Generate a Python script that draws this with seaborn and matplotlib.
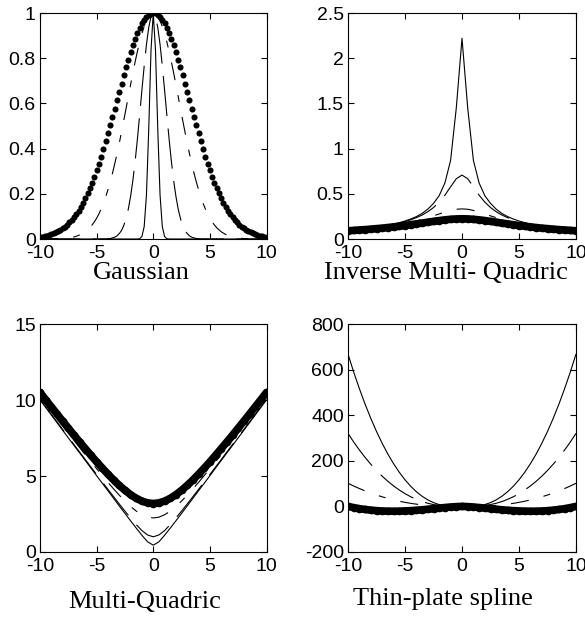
import numpy as np
import matplotlib
matplotlib.use("Agg")
import matplotlib.pyplot as plt
import seaborn as sns

# ---------------- data ----------------
x_fine = np.linspace(-10, 10, 101)     # sampling grid of the Gaussian panel
x_coarse = np.linspace(-10, 10, 41)    # sampling grid of the other panels

gauss_c1 = [0.0] * 44 + [0.001, 0.011, 0.055, 0.195, 0.483, 0.834, 1.000,
                         0.834, 0.483, 0.195, 0.055, 0.011, 0.001] + [0.0] * 44
gauss_c2 = [0.0] * 30 + [0.001, 0.002, 0.005, 0.008, 0.014, 0.024, 0.038, 0.060, 0.091, 0.133,
                         0.189, 0.259, 0.344, 0.442, 0.549, 0.659, 0.766, 0.861, 0.936, 0.983,
                         1.000,
                         0.983, 0.936, 0.861, 0.766, 0.659, 0.549, 0.442, 0.344, 0.259, 0.189,
                         0.133, 0.091, 0.060, 0.038, 0.024, 0.014, 0.008, 0.005, 0.002, 0.001] + [0.0] * 30
gauss_c3 = [0.0] * 6 + [0.001, 0.001, 0.001, 0.002, 0.002, 0.003, 0.004, 0.005, 0.007, 0.009,
                        0.012, 0.016, 0.020, 0.026, 0.032, 0.041, 0.050, 0.062, 0.076, 0.092,
                        0.111, 0.133, 0.158, 0.186, 0.218, 0.253, 0.291, 0.333, 0.377, 0.424,
                        0.474, 0.525, 0.578, 0.631, 0.683, 0.735, 0.784, 0.830, 0.872, 0.909,
                        0.941, 0.966, 0.985, 0.996,
                        1.000,
                        0.996, 0.985, 0.966, 0.941, 0.909, 0.872, 0.830, 0.784, 0.735, 0.683,
                        0.631, 0.578, 0.525, 0.474, 0.424, 0.377, 0.333, 0.291, 0.253, 0.218,
                        0.186, 0.158, 0.133, 0.111, 0.092, 0.076, 0.062, 0.050, 0.041, 0.032,
                        0.026, 0.020, 0.016, 0.012, 0.009, 0.007, 0.005, 0.004, 0.003, 0.002,
                        0.002, 0.001, 0.001, 0.001] + [0.0] * 6
gauss_c4 = [0.009, 0.010, 0.012, 0.015, 0.018, 0.021, 0.025, 0.030, 0.035, 0.041,
            0.047, 0.055, 0.064, 0.074, 0.085, 0.097, 0.111, 0.126, 0.142, 0.160,
            0.180, 0.202, 0.225, 0.249, 0.276, 0.304, 0.334, 0.365, 0.398, 0.432,
            0.467, 0.503, 0.539, 0.577, 0.614, 0.651, 0.688, 0.725, 0.760, 0.794,
            0.827, 0.857, 0.885, 0.911, 0.934, 0.954, 0.970, 0.983, 0.992, 0.998,
            1.000,
            0.998, 0.992, 0.983, 0.970, 0.954, 0.934, 0.911, 0.885, 0.857, 0.827,
            0.794, 0.760, 0.725, 0.688, 0.651, 0.614, 0.577, 0.539, 0.503, 0.467,
            0.432, 0.398, 0.365, 0.334, 0.304, 0.276, 0.249, 0.225, 0.202, 0.180,
            0.160, 0.142, 0.126, 0.111, 0.097, 0.085, 0.074, 0.064, 0.055, 0.047,
            0.041, 0.035, 0.030, 0.025, 0.021, 0.018, 0.015, 0.012, 0.010, 0.009]

imq_c1 = [0.100, 0.105, 0.111, 0.117, 0.125, 0.133, 0.143, 0.153, 0.166, 0.181,
          0.199, 0.221, 0.248, 0.283, 0.330, 0.394, 0.480, 0.620, 0.870, 1.450,
          2.220,
          1.450, 0.870, 0.620, 0.480, 0.394, 0.330, 0.283, 0.248, 0.221, 0.199,
          0.181, 0.166, 0.153, 0.143, 0.133, 0.125, 0.117, 0.111, 0.105, 0.100]
imq_c2 = [0.099, 0.104, 0.110, 0.116, 0.123, 0.131, 0.140, 0.150, 0.162, 0.176,
          0.192, 0.212, 0.236, 0.265, 0.302, 0.348, 0.408, 0.485, 0.577, 0.667,
          0.707,
          0.667, 0.577, 0.485, 0.408, 0.348, 0.302, 0.265, 0.236, 0.212, 0.192,
          0.176, 0.162, 0.150, 0.140, 0.131, 0.123, 0.116, 0.110, 0.104, 0.099]
imq_c3 = [0.096, 0.100, 0.105, 0.111, 0.117, 0.124, 0.131, 0.140, 0.149, 0.160,
          0.171, 0.185, 0.200, 0.217, 0.236, 0.256, 0.277, 0.298, 0.316, 0.329,
          0.333,
          0.329, 0.316, 0.298, 0.277, 0.256, 0.236, 0.217, 0.200, 0.185, 0.171,
          0.160, 0.149, 0.140, 0.131, 0.124, 0.117, 0.111, 0.105, 0.100, 0.096]
imq_c4 = [0.091, 0.095, 0.100, 0.104, 0.109, 0.115, 0.120, 0.127, 0.134, 0.141,
          0.149, 0.158, 0.167, 0.176, 0.186, 0.195, 0.204, 0.212, 0.218, 0.222,
          0.224,
          0.222, 0.218, 0.212, 0.204, 0.195, 0.186, 0.176, 0.167, 0.158, 0.149,
          0.141, 0.134, 0.127, 0.120, 0.115, 0.109, 0.104, 0.100, 0.095, 0.091]

mq_c1 = [10.01, 9.51, 9.01, 8.51, 8.01, 7.51, 7.01, 6.52, 6.02, 5.52,
         5.02, 4.52, 4.03, 3.53, 3.03, 2.54, 2.05, 1.57, 1.10, 0.67,
         0.45,
         0.67, 1.10, 1.57, 2.05, 2.54, 3.03, 3.53, 4.03, 4.52, 5.02,
         5.52, 6.02, 6.52, 7.01, 7.51, 8.01, 8.51, 9.01, 9.51, 10.01]
mq_c2 = [10.05, 9.55, 9.06, 8.56, 8.06, 7.57, 7.07, 6.58, 6.08, 5.59,
         5.10, 4.61, 4.12, 3.64, 3.16, 2.69, 2.24, 1.80, 1.41, 1.12,
         1.00,
         1.12, 1.41, 1.80, 2.24, 2.69, 3.16, 3.64, 4.12, 4.61, 5.10,
         5.59, 6.08, 6.58, 7.07, 7.57, 8.06, 8.56, 9.06, 9.55, 10.05]
mq_c3 = [10.25, 9.76, 9.27, 8.79, 8.31, 7.83, 7.35, 6.87, 6.40, 5.94,
         5.48, 5.03, 4.58, 4.15, 3.74, 3.35, 3.00, 2.69, 2.45, 2.29,
         2.24,
         2.29, 2.45, 2.69, 3.00, 3.35, 3.74, 4.15, 4.58, 5.03, 5.48,
         5.94, 6.40, 6.87, 7.35, 7.83, 8.31, 8.79, 9.27, 9.76, 10.25]
mq_c4 = [10.50, 10.02, 9.55, 9.08, 8.61, 8.15, 7.69, 7.24, 6.80, 6.36,
         5.93, 5.52, 5.12, 4.74, 4.38, 4.06, 3.77, 3.53, 3.35, 3.23,
         3.19,
         3.23, 3.35, 3.53, 3.77, 4.06, 4.38, 4.74, 5.12, 5.52, 5.93,
         6.36, 6.80, 7.24, 7.69, 8.15, 8.61, 9.08, 9.55, 10.02, 10.50]

tps_c1 = [667.8, 589.2, 516.2, 448.4, 386.0, 328.7, 276.5, 229.3, 187.1, 149.5,
          116.7, 88.3, 64.3, 44.5, 28.7, 16.6, 8.0, 2.6, 0.0, -0.5,
          0.0,
          -0.5, 0.0, 2.6, 8.0, 16.6, 28.7, 44.5, 64.3, 88.3, 116.7,
          149.5, 187.1, 229.3, 276.5, 328.7, 386.0, 448.4, 516.2, 589.2, 667.8]
tps_c2 = [320.1, 282.4, 247.4, 214.9, 185.0, 157.5, 132.5, 109.9, 89.7, 71.7,
          55.9, 42.3, 30.8, 21.3, 13.7, 8.0, 3.9, 1.3, 0.0, -0.2,
          0.0,
          -0.2, 0.0, 1.3, 3.9, 8.0, 13.7, 21.3, 30.8, 42.3, 55.9,
          71.7, 89.7, 109.9, 132.5, 157.5, 185.0, 214.9, 247.4, 282.4, 320.1]
tps_c3 = [101.3, 89.4, 78.3, 68.0, 58.6, 49.9, 42.0, 34.8, 28.4, 22.7,
          17.7, 13.4, 9.8, 6.8, 4.4, 2.5, 1.2, 0.4, 0.0, -0.1,
          0.0,
          -0.1, 0.0, 0.4, 1.2, 2.5, 4.4, 6.8, 9.8, 13.4, 17.7,
          22.7, 28.4, 34.8, 42.0, 49.9, 58.6, 68.0, 78.3, 89.4, 101.3]
tps_c4 = [0.0, -5.3, -9.8, -13.5, -16.4, -18.6, -20.1, -20.9, -21.2, -20.8,
          -19.9, -18.6, -16.9, -14.8, -12.5, -10.0, -7.4, -4.9, -2.7, -0.9,
          0.0,
          -0.9, -2.7, -4.9, -7.4, -10.0, -12.5, -14.8, -16.9, -18.6, -19.9,
          -20.8, -21.2, -20.9, -20.1, -18.6, -16.4, -13.5, -9.8, -5.3, 0.0]

titles = ["Gaussian", "Inverse Multi- Quadric", "Multi-Quadric", "Thin-plate spline"]
x_ticks = [-10, -5, 0, 5, 10]
x_ticklabels = ["-10", "-5", "0", "5", "10"]
y_ticks = [[0, 0.2, 0.4, 0.6, 0.8, 1], [0, 0.5, 1, 1.5, 2, 2.5],
           [0, 5, 10, 15], [-200, 0, 200, 400, 600, 800]]
y_ticklabels = [["0", "0.2", "0.4", "0.6", "0.8", "1"],
                ["0", "0.5", "1", "1.5", "2", "2.5"],
                ["0", "5", "10", "15"],
                ["-200", "0", "200", "400", "600", "800"]]
y_limits = [(0, 1), (0, 2.5), (0, 15), (-200, 800)]

# ---------------- style ----------------
sns.set_theme(style="ticks")
plt.rcParams.update({
    "lines.scale_dashes": False,
    "axes.edgecolor": "black",
    "axes.linewidth": 0.8,
    "xtick.color": "black",
    "ytick.color": "black",
    "xtick.direction": "in",
    "ytick.direction": "in",
})
plt.rcParams["font.family"] = ["Liberation Sans", "DejaVu Sans"]

W, H = 585, 620
fig = plt.figure(figsize=(W / 100, H / 100), dpi=100)
fig.patch.set_facecolor("white")

def add_ax(left, right, top, bottom):
    return fig.add_axes([left / W, 1 - bottom / H, (right - left) / W, (bottom - top) / H])

boxes = [(40, 266.5, 13, 239), (348, 576, 13, 239), (40, 266.5, 324, 552), (348, 576, 324, 552)]
title_pos = [(141, 273), (446, 273), (145, 602), (443, 599)]

SOLID = dict(linestyle="-", linewidth=0.8)
LONGDASH = dict(linestyle=(0, (29, 9)), linewidth=0.8)
DASHDOT = dict(linestyle=(0, (13, 11, 5, 11)), linewidth=0.8)
DOTS = dict(linestyle="none", marker="o", markersize=4.4, markeredgewidth=0)
THICK = dict(linestyle="-", linewidth=5.5, marker="o", markersize=5.5, markeredgewidth=0)

panels = [
    (x_fine, [(gauss_c1, SOLID), (gauss_c2, LONGDASH), (gauss_c3, DASHDOT), (gauss_c4, DOTS)]),
    (x_coarse, [(imq_c1, SOLID), (imq_c2, LONGDASH), (imq_c3, DASHDOT), (imq_c4, THICK)]),
    (x_coarse, [(mq_c1, SOLID), (mq_c2, LONGDASH), (mq_c3, DASHDOT), (mq_c4, THICK)]),
    (x_coarse, [(tps_c1, SOLID), (tps_c2, LONGDASH), (tps_c3, DASHDOT), (tps_c4, THICK)]),
]

for i, (xs, series) in enumerate(panels):
    ax = add_ax(*boxes[i])
    for ys, st in series:
        sns.lineplot(x=xs, y=ys, ax=ax, color="black", estimator=None, sort=False,
                     legend=False, **st)
    ax.set_xlim(-10, 10)
    ax.set_ylim(*y_limits[i])
    ax.set_xticks(x_ticks, x_ticklabels)
    ax.set_yticks(y_ticks[i], y_ticklabels[i])
    ax.tick_params(direction="in", top=True, right=True, length=4, width=0.8,
                   labelsize=14)
    ax.tick_params(axis="x", pad=4)
    ax.tick_params(axis="y", pad=3)
    for s in ax.spines.values():
        s.set_visible(True)
        s.set_color("black")
        s.set_linewidth(0.8)
    ax.set_xlabel("")
    ax.set_ylabel("")
    tx, ty = title_pos[i]
    fig.text(tx / W, 1 - ty / H, titles[i], ha="center", va="center",
             family="Liberation Serif", size=19, color="black")

fig.savefig("out.png", dpi=100, facecolor="white")
